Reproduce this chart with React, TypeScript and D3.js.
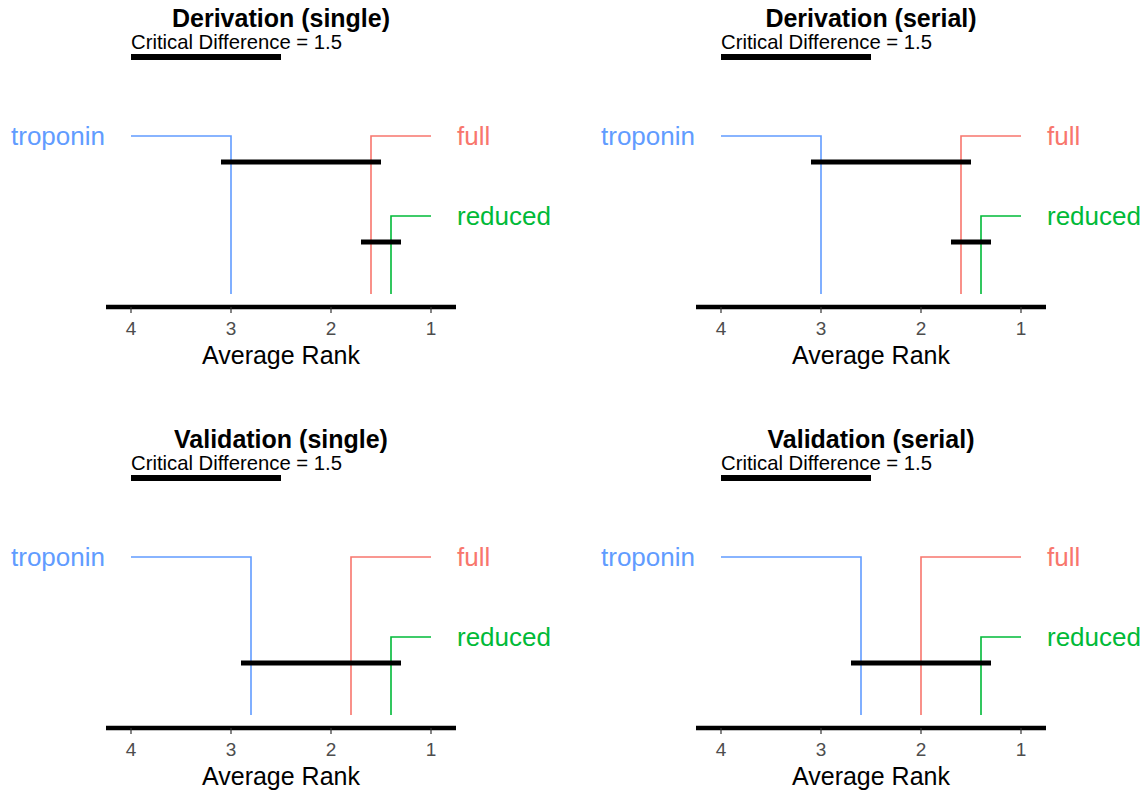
import { useEffect, useRef } from "react";
import * as d3 from "d3";

const models = ["troponin", "full", "reduced"];
const modelColors = ["#619CFF", "#F8766D", "#00BA38"];
const panelTitles = [
  "Derivation (single)",
  "Derivation (serial)",
  "Validation (single)",
  "Validation (serial)",
];
// average rank of troponin, full, reduced in each panel
const derivSingleRanks = [3.0, 1.6, 1.4];
const derivSerialRanks = [3.0, 1.6, 1.4];
const validSingleRanks = [2.8, 1.8, 1.4];
const validSerialRanks = [2.6, 2.0, 1.4];
const panelRanks = [derivSingleRanks, derivSerialRanks, validSingleRanks, validSerialRanks];
// groups not significantly different: [level, model indices]
const derivSingleCliques = [[0, [0, 1]], [1, [1, 2]]];
const derivSerialCliques = [[0, [0, 1]], [1, [1, 2]]];
const validSingleCliques = [[1, [0, 1, 2]]];
const validSerialCliques = [[1, [0, 1, 2]]];
const panelCliques = [derivSingleCliques, derivSerialCliques, validSingleCliques, validSerialCliques];
const rankTicks = [4, 3, 2, 1];
const criticalDifference = 1.5;

const App = () => {
  const svgRef = useRef(null);

  useEffect(() => {
    const svg = d3.select(svgRef.current);
    svg.selectAll("*").remove();

    const x = d3.scaleLinear().domain([4, 1]).range([131, 431]);
    const row = d3.scaleLinear().domain([0, 1]).range([136, 216]);
    const axisY = 307;
    const font = "'Liberation Sans', Arial, sans-serif";

    panelTitles.forEach((title, p) => {
      const ranks = panelRanks[p];
      const cliques = panelCliques[p];
      const g = svg
        .append("g")
        .attr("transform", `translate(${(p % 2) * 590},${Math.floor(p / 2) * 421})`)
        .style("font-family", font);

      // title
      g.append("text")
        .attr("x", 281)
        .attr("y", 27)
        .attr("text-anchor", "middle")
        .style("font-size", "25px")
        .style("font-weight", "bold")
        .text(title);

      // critical difference bar
      g.append("text")
        .attr("x", x(4))
        .attr("y", 49)
        .style("font-size", "20.3px")
        .text(`Critical Difference = ${criticalDifference}`);
      g.append("line")
        .attr("x1", x(4))
        .attr("x2", x(4 - criticalDifference))
        .attr("y1", 57)
        .attr("y2", 57)
        .attr("stroke", "black")
        .attr("stroke-width", 6);

      // axis
      g.append("line")
        .attr("x1", x(4.25))
        .attr("x2", x(0.75))
        .attr("y1", axisY)
        .attr("y2", axisY)
        .attr("stroke", "black")
        .attr("stroke-width", 4.5);
      g.selectAll(".tick")
        .data(rankTicks)
        .enter()
        .append("line")
        .attr("x1", (d) => x(d))
        .attr("x2", (d) => x(d))
        .attr("y1", axisY)
        .attr("y2", axisY + 6)
        .attr("stroke", "#333333")
        .attr("stroke-width", 1.2);
      g.selectAll(".ticklab")
        .data(rankTicks)
        .enter()
        .append("text")
        .attr("x", (d) => x(d))
        .attr("y", axisY + 28)
        .attr("text-anchor", "middle")
        .attr("fill", "#4D4D4D")
        .style("font-size", "19px")
        .text((d) => d);
      g.append("text")
        .attr("x", 281)
        .attr("y", 364)
        .attr("text-anchor", "middle")
        .style("font-size", "25px")
        .text("Average Rank");

      // model lines: worse ranks to the left, better to the right
      const order = d3.range(models.length).sort((a, b) => ranks[b] - ranks[a]);
      const half = Math.floor(order.length / 2);
      order.forEach((m, i) => {
        const left = i < half;
        const level = left ? i : i - half;
        const yy = row(level);
        const end = left ? x(4) : x(1);
        g.append("path")
          .attr("d", `M${end},${yy}H${x(ranks[m])}V${axisY - 13}`)
          .attr("fill", "none")
          .attr("stroke", modelColors[m])
          .attr("stroke-width", 1.6);
        g.append("text")
          .attr("x", left ? end - 26 : end + 26)
          .attr("y", yy)
          .attr("dy", "0.36em")
          .attr("text-anchor", left ? "end" : "start")
          .attr("fill", modelColors[m])
          .style("font-size", "26px")
          .text(models[m]);
      });

      // clique bars
      cliques.forEach(([level, members]) => {
        const rs = members.map((m) => ranks[m]);
        const yy = row(level) + 26;
        g.append("line")
          .attr("x1", x(d3.max(rs) + 0.1))
          .attr("x2", x(d3.min(rs) - 0.1))
          .attr("y1", yy)
          .attr("y2", yy)
          .attr("stroke", "black")
          .attr("stroke-width", 5);
      });
    });
  }, []);

  return (
    <svg
      ref={svgRef}
      width={1146}
      height={796}
      style={{ position: "absolute", left: 0, top: 0, background: "white" }}
    ></svg>
  );
};

export default App;
